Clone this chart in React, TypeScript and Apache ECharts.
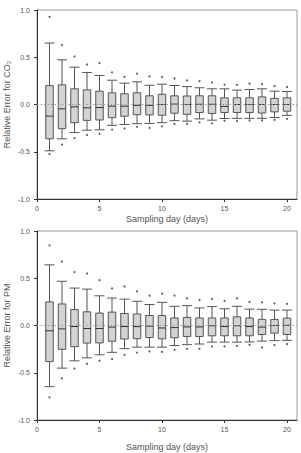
import React, { useEffect, useRef } from "react";
import * as echarts from "echarts";

// Sampling days (x positions of the boxes)
const days = [1, 2, 3, 4, 5, 6, 7, 8, 9, 10, 11, 12, 13, 14, 15, 16, 17, 18, 19, 20];
const xTicks = [0, 5, 10, 15, 20];

// Relative error for CO2: whiskers, quartiles, median, outliers
const co2WhiskerHigh = [0.65, 0.473, 0.395, 0.339, 0.307, 0.257, 0.226, 0.24, 0.203, 0.215, 0.201, 0.189, 0.177, 0.166, 0.166, 0.152, 0.159, 0.166, 0.141, 0.138];
const co2Q3 = [0.2, 0.208, 0.166, 0.155, 0.141, 0.124, 0.113, 0.124, 0.092, 0.108, 0.092, 0.09, 0.092, 0.092, 0.071, 0.071, 0.071, 0.081, 0.065, 0.071];
const co2Median = [-0.123, -0.046, -0.025, -0.035, -0.032, -0.018, -0.018, -0.009, -0.009, 0.0, 0.004, 0.0, 0.002, 0.002, -0.02, 0.0, 0.0, 0.0, 0.0, 0.0];
const co2Q1 = [-0.363, -0.256, -0.192, -0.168, -0.164, -0.14, -0.124, -0.108, -0.11, -0.114, -0.092, -0.104, -0.085, -0.095, -0.085, -0.085, -0.085, -0.09, -0.078, -0.071];
const co2WhiskerLow = [-0.49, -0.363, -0.297, -0.272, -0.268, -0.22, -0.212, -0.203, -0.201, -0.192, -0.171, -0.176, -0.152, -0.166, -0.148, -0.146, -0.146, -0.146, -0.138, -0.115];
const co2OutlierHigh = [0.928, 0.628, 0.508, 0.423, 0.437, 0.339, 0.293, 0.326, 0.298, 0.289, 0.275, 0.255, 0.247, 0.233, 0.21, 0.208, 0.22, 0.215, 0.194, 0.185];
const co2OutlierLow = [-0.525, -0.425, -0.355, -0.323, -0.312, -0.266, -0.254, -0.236, -0.248, -0.231, -0.206, -0.206, -0.189, -0.201, -0.172, -0.176, -0.168, -0.168, -0.162, -0.152];

// Relative error for PM
const pmWhiskerHigh = [0.642, 0.468, 0.396, 0.385, 0.314, 0.29, 0.279, 0.256, 0.222, 0.245, 0.203, 0.21, 0.186, 0.2, 0.177, 0.203, 0.173, 0.171, 0.163, 0.163];
const pmQ3 = [0.25, 0.228, 0.169, 0.145, 0.131, 0.142, 0.127, 0.122, 0.106, 0.106, 0.08, 0.085, 0.08, 0.08, 0.08, 0.092, 0.08, 0.065, 0.063, 0.078];
const pmMedian = [-0.056, -0.036, -0.011, -0.032, -0.032, -0.017, -0.011, -0.012, -0.007, -0.026, -0.022, -0.015, -0.015, -0.003, -0.011, -0.003, -0.011, -0.017, 0.0, 0.002];
const pmQ1 = [-0.382, -0.252, -0.224, -0.186, -0.184, -0.166, -0.143, -0.14, -0.127, -0.141, -0.13, -0.116, -0.116, -0.109, -0.109, -0.109, -0.109, -0.095, -0.081, -0.095];
const pmWhiskerLow = [-0.647, -0.451, -0.374, -0.342, -0.31, -0.284, -0.245, -0.229, -0.229, -0.229, -0.212, -0.203, -0.196, -0.176, -0.176, -0.176, -0.174, -0.165, -0.16, -0.157];
const pmOutlierHigh = [0.847, 0.677, 0.565, 0.55, 0.48, 0.392, 0.413, 0.36, 0.315, 0.337, 0.317, 0.288, 0.27, 0.281, 0.26, 0.288, 0.251, 0.245, 0.233, 0.228];
const pmOutlierLow = [-0.76, -0.56, -0.456, -0.405, -0.373, -0.356, -0.31, -0.287, -0.275, -0.28, -0.257, -0.247, -0.247, -0.222, -0.222, -0.215, -0.204, -0.233, -0.207, -0.196];

const yTitles = ["Relative Error for CO₂", "Relative Error for PM"];

const FONT = "'Liberation Sans', Arial, sans-serif";
const TEXT = "#555";
const AXIS = "#333";
const STROKE = "#555";
const FILL = "#d3d3d3";
const BOX_W = 0.6;
const CAP_W = 0.8;

const GRID_LEFT = 37;
const GRID_W = 260;
const GRID_H = 189;
const GRID_TOPS = [10, 231];

const boxRows = (lo: number[], q1: number[], md: number[], q3: number[], hi: number[]) =>
  days.map((d, i) => [d, lo[i], q1[i], md[i], q3[i], hi[i]]);

const outlierRows = (hi: number[], lo: number[]) => [
  ...days.map((d, i) => [d, hi[i]]),
  ...days.map((d, i) => [d, lo[i]]),
];

function renderBox(_params: any, api: any) {
  const x = api.value(0);
  const lo = api.coord([x, api.value(1)]);
  const q1 = api.coord([x, api.value(2)]);
  const md = api.coord([x, api.value(3)]);
  const q3 = api.coord([x, api.value(4)]);
  const hi = api.coord([x, api.value(5)]);
  const bw = api.size([BOX_W, 0])[0];
  const cw = api.size([CAP_W, 0])[0];
  const cx = lo[0];
  const ls = { stroke: STROKE, lineWidth: 1, fill: null };
  return {
    type: "group",
    children: [
      { type: "line", shape: { x1: cx, y1: hi[1], x2: cx, y2: q3[1] }, style: ls },
      { type: "line", shape: { x1: cx, y1: q1[1], x2: cx, y2: lo[1] }, style: ls },
      { type: "line", shape: { x1: cx - cw / 2, y1: hi[1], x2: cx + cw / 2, y2: hi[1] }, style: ls },
      { type: "line", shape: { x1: cx - cw / 2, y1: lo[1], x2: cx + cw / 2, y2: lo[1] }, style: ls },
      {
        type: "rect",
        shape: { x: cx - bw / 2, y: q3[1], width: bw, height: q1[1] - q3[1] },
        style: { fill: FILL, stroke: STROKE, lineWidth: 1 },
      },
      { type: "line", shape: { x1: cx - bw / 2, y1: md[1], x2: cx + bw / 2, y2: md[1] }, style: { stroke: "#333", lineWidth: 1 } },
    ],
  };
}

const xAxisFor = (gridIndex: number, nameGap: number) => ({
  type: "value",
  gridIndex,
  min: 0,
  max: 20.8,
  interval: 5,
  name: "Sampling day (days)",
  nameLocation: "middle",
  nameGap,
  nameTextStyle: { fontSize: 9, color: TEXT, fontFamily: FONT },
  axisLine: { show: true, onZero: false, lineStyle: { color: AXIS, width: 1 } },
  axisTick: { show: true, inside: false, length: 3, customValues: xTicks, lineStyle: { color: AXIS } },
  axisLabel: { fontSize: 7, color: TEXT, fontFamily: FONT, margin: 6, customValues: xTicks },
  splitLine: { show: false },
});

const yAxisFor = (gridIndex: number) => ({
  type: "value",
  gridIndex,
  min: -1,
  max: 1,
  interval: 0.5,
  axisLine: { show: true, onZero: false, lineStyle: { color: AXIS, width: 1 } },
  axisTick: { show: true, inside: false, length: 3, lineStyle: { color: AXIS } },
  axisLabel: {
    fontSize: 7,
    color: TEXT,
    fontFamily: FONT,
    margin: 7,
    formatter: (v: number) => v.toFixed(1),
  },
  splitLine: { show: false },
});

const zeroLine = {
  silent: true,
  symbol: "none",
  label: { show: false },
  lineStyle: { color: "#999", type: [1.5, 2], width: 1 },
  data: [{ yAxis: 0 }],
};

const panelSeries = (
  idx: number,
  lo: number[],
  q1: number[],
  md: number[],
  q3: number[],
  hi: number[],
  outHi: number[],
  outLo: number[]
) => [
  {
    type: "scatter",
    xAxisIndex: idx,
    yAxisIndex: idx,
    data: [],
    markLine: zeroLine,
    z: 1,
  },
  {
    type: "custom",
    xAxisIndex: idx,
    yAxisIndex: idx,
    renderItem: renderBox,
    encode: { x: 0, y: [1, 2, 3, 4, 5] },
    data: boxRows(lo, q1, md, q3, hi),
    z: 2,
  },
  {
    type: "scatter",
    xAxisIndex: idx,
    yAxisIndex: idx,
    symbol: "circle",
    symbolSize: 2,
    itemStyle: { color: "#333" },
    data: outlierRows(outHi, outLo),
    z: 3,
  },
];

const gridFor = (top: number) => ({
  left: GRID_LEFT,
  top,
  width: GRID_W,
  height: GRID_H,
  show: true,
  borderColor: "#999",
  borderWidth: 1,
  containLabel: false,
  outerBoundsMode: "none",
});

// Rotated y-axis titles, centred on each plot's height
const yTitleGraphics = yTitles.map((t, i) => ({
  type: "text",
  x: 6.5,
  y: GRID_TOPS[i] + GRID_H / 2,
  rotation: Math.PI / 2,
  style: {
    text: t,
    fontSize: 9,
    fontFamily: FONT,
    fill: TEXT,
    align: "center",
    verticalAlign: "middle",
  },
}));

export default function App() {
  const ref = useRef<HTMLDivElement>(null);

  useEffect(() => {
    if (!ref.current) return;
    const chart = echarts.init(ref.current, null, { renderer: "svg" });
    chart.setOption({
      animation: false,
      backgroundColor: "#fff",
      grid: GRID_TOPS.map(gridFor),
      xAxis: [xAxisFor(0, 15), xAxisFor(1, 22)],
      yAxis: [yAxisFor(0), yAxisFor(1)],
      graphic: yTitleGraphics,
      series: [
        ...panelSeries(0, co2WhiskerLow, co2Q1, co2Median, co2Q3, co2WhiskerHigh, co2OutlierHigh, co2OutlierLow),
        ...panelSeries(1, pmWhiskerLow, pmQ1, pmMedian, pmQ3, pmWhiskerHigh, pmOutlierHigh, pmOutlierLow),
      ],
    });
    return () => chart.dispose();
  }, []);

  return (
    <div
      ref={ref}
      style={{ position: "absolute", left: 0, top: 0, width: 301, height: 453, background: "#fff" }}
    />
  );
}
